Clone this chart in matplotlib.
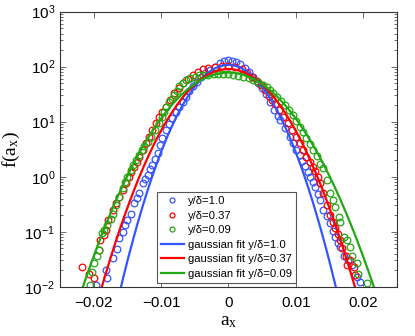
import numpy as np
import matplotlib
matplotlib.use("Agg")
import matplotlib.pyplot as plt
from matplotlib.ticker import FixedLocator, FuncFormatter, LogLocator, NullFormatter

plt.rcParams['font.family'] = ['Liberation Sans', 'DejaVu Sans']
plt.rcParams['mathtext.fontset'] = 'custom'
plt.rcParams['mathtext.rm'] = 'Liberation Serif'
plt.rcParams['mathtext.it'] = 'Liberation Serif:italic'
plt.rcParams['mathtext.sf'] = 'Liberation Sans'

# measured pdf, x = a_x, values given as log10 f(a_x)
x_10 = [-0.0196, -0.0182, -0.0180, -0.0171, -0.0166, -0.0162, -0.0157, -0.0153, -0.0150, -0.0145,
        -0.0140, -0.0136, -0.0132, -0.0127, -0.0124, -0.0120, -0.0116, -0.0113, -0.0109, -0.0105,
        -0.0102, -0.0098, -0.0093, -0.0088, -0.0083, -0.0078, -0.0073, -0.0068, -0.0063, -0.0058,
        -0.0053, -0.0047, -0.0040, -0.0034, -0.0028, -0.0020, -0.0013, -0.0006, 0.0000, 0.0006,
        0.0012, 0.0018, 0.0024, 0.0030, 0.0037, 0.0044, 0.0050, 0.0056, 0.0062, 0.0068,
        0.0073, 0.0077, 0.0084, 0.0091, 0.0096, 0.0101, 0.0106, 0.0110, 0.0114, 0.0118,
        0.0121, 0.0125, 0.0129, 0.0133, 0.0136, 0.0141, 0.0146, 0.0151, 0.0155, 0.0159,
        0.0163, 0.0166, 0.0171, 0.0178, 0.0184, 0.0191, 0.0196]
log_10 = [-1.97, -1.70, -1.84, -1.47, -1.31, -1.12, -1.00, -0.88, -0.79, -0.67,
          -0.48, -0.39, -0.30, -0.12, -0.04, 0.03, 0.14, 0.22, 0.33, 0.43,
          0.58, 0.70, 0.85, 0.95, 1.06, 1.17, 1.27, 1.36, 1.45, 1.55,
          1.64, 1.73, 1.82, 1.88, 1.94, 2.00, 2.06, 2.10, 2.12, 2.11,
          2.08, 2.04, 1.98, 1.91, 1.82, 1.71, 1.61, 1.50, 1.36, 1.22,
          1.11, 1.03, 0.88, 0.73, 0.61, 0.49, 0.39, 0.28, 0.20, 0.08,
          0.00, -0.09, -0.18, -0.31, -0.42, -0.61, -0.72, -0.85, -0.98, -1.09,
          -1.20, -1.27, -1.45, -1.52, -1.61, -1.82, -1.91]

x_037 = [-0.0217, -0.0207, -0.0200, -0.0192, -0.0190, -0.0185, -0.0182, -0.0178, -0.0172, -0.0167,
         -0.0162, -0.0157, -0.0152, -0.0147, -0.0144, -0.0140, -0.0136, -0.0132, -0.0127, -0.0122,
         -0.0118, -0.0113, -0.0108, -0.0103, -0.0098, -0.0093, -0.0087, -0.0080, -0.0074, -0.0068,
         -0.0060, -0.0053, -0.0045, -0.0038, -0.0030, -0.0020, -0.0010, 0.0000, 0.0010, 0.0020,
         0.0028, 0.0035, 0.0042, 0.0048, 0.0054, 0.0060, 0.0065, 0.0069, 0.0075, 0.0081,
         0.0088, 0.0094, 0.0100, 0.0106, 0.0111, 0.0116, 0.0121, 0.0125, 0.0129, 0.0133,
         0.0136, 0.0141, 0.0146, 0.0151, 0.0155, 0.0159, 0.0163, 0.0166, 0.0169, 0.0174,
         0.0176, 0.0181, 0.0186, 0.0188]
log_037 = [-1.64, -1.76, -1.85, -1.33, -1.15, -1.06, -0.97, -0.79, -0.61, -0.48,
           -0.36, -0.24, -0.12, 0.00, 0.09, 0.18, 0.27, 0.36, 0.49, 0.61,
           0.73, 0.85, 0.97, 1.09, 1.18, 1.27, 1.40, 1.52, 1.61, 1.70,
           1.78, 1.85, 1.91, 1.95, 1.98, 2.00, 2.01, 2.01, 1.99, 1.95,
           1.89, 1.82, 1.74, 1.66, 1.57, 1.47, 1.39, 1.33, 1.21, 1.09,
           0.97, 0.85, 0.73, 0.61, 0.49, 0.36, 0.27, 0.18, 0.10, 0.00,
           -0.12, -0.30, -0.51, -0.70, -0.82, -0.94, -1.05, -1.15, -1.30, -1.45,
           -1.61, -1.51, -1.64, -1.79]

x_009 = [-0.0206, -0.0202, -0.0200, -0.0195, -0.0192, -0.0187, -0.0185, -0.0180, -0.0175, -0.0172,
         -0.0167, -0.0162, -0.0157, -0.0153, -0.0150, -0.0145, -0.0141, -0.0137, -0.0132, -0.0128,
         -0.0125, -0.0120, -0.0115, -0.0109, -0.0103, -0.0099, -0.0095, -0.0092, -0.0088, -0.0084,
         -0.0080, -0.0076, -0.0073, -0.0068, -0.0063, -0.0057, -0.0050, -0.0044, -0.0037, -0.0030,
         -0.0022, -0.0015, -0.0008, 0.0000, 0.0007, 0.0015, 0.0022, 0.0030, 0.0037, 0.0044,
         0.0052, 0.0057, 0.0062, 0.0067, 0.0072, 0.0078, 0.0084, 0.0090, 0.0096, 0.0101,
         0.0106, 0.0111, 0.0116, 0.0121, 0.0126, 0.0131, 0.0136, 0.0141, 0.0146, 0.0151,
         0.0155, 0.0159, 0.0164, 0.0166, 0.0171, 0.0176, 0.0181, 0.0184, 0.0191, 0.0193,
         0.0206]
log_009 = [-1.97, -1.73, -1.57, -1.45, -1.33, -1.03, -0.97, -0.88, -0.76, -0.67,
           -0.51, -0.36, -0.21, -0.09, 0.00, 0.12, 0.21, 0.30, 0.40, 0.48,
           0.55, 0.64, 0.73, 0.85, 0.97, 1.08, 1.18, 1.27, 1.36, 1.42,
           1.48, 1.56, 1.64, 1.70, 1.76, 1.79, 1.82, 1.84, 1.85, 1.85,
           1.86, 1.87, 1.86, 1.86, 1.85, 1.83, 1.82, 1.79, 1.76, 1.72,
           1.67, 1.63, 1.58, 1.52, 1.45, 1.38, 1.30, 1.21, 1.12, 1.02,
           0.91, 0.81, 0.70, 0.60, 0.49, 0.37, 0.24, 0.15, -0.06, -0.30,
           -0.42, -0.55, -0.73, -0.82, -1.09, -1.15, -1.27, -1.45, -1.57, -1.76,
           -1.94]

# gaussian fit parameters (mean, std)
fit_mu = [0.0, 0.0, 0.0]
fit_sigma = [0.0037, 0.0044, 0.0051]

labels = ['1.0', '0.37', '0.09']
colors = ['#3355ff', '#ff0000', '#22a812']

fig = plt.figure(figsize=(4.15, 3.36), dpi=100)
ax = fig.add_axes([0.1446, 0.1467, 0.8114, 0.8185])

data = [(x_10, log_10), (x_037, log_037), (x_009, log_009)]
for (xs, ls), lab, c in zip(data, labels, colors):
    ax.plot(xs, 10.0 ** np.array(ls), 'o', mfc='none', mec=c, ms=4.8, mew=0.9,
            label='y/δ=' + lab)

xx = np.linspace(-0.025, 0.025, 600)
for mu, s, lab, c in zip(fit_mu, fit_sigma, labels, colors):
    f = np.exp(-(xx - mu) ** 2 / (2 * s ** 2)) / (s * np.sqrt(2 * np.pi))
    ax.plot(xx, f, '-', color=c, lw=1.6, label='gaussian fit y/δ=' + lab)

ax.set_yscale('log')
ax.set_xlim(-0.025, 0.025)
ax.set_ylim(1e-2, 1e3)
ax.xaxis.set_major_locator(FixedLocator([-0.02, -0.01, 0, 0.01, 0.02]))
ax.xaxis.set_major_formatter(FuncFormatter(lambda v, p: '0' if abs(v) < 1e-9 else ('%.2f' % v).replace('-', '\u2212')))
ax.yaxis.set_major_locator(LogLocator(base=10, numticks=10))
ax.yaxis.set_major_formatter(FuncFormatter(lambda v, p: r'$\mathsf{10^{%d}}$' % round(np.log10(v))))
ax.yaxis.set_minor_locator(LogLocator(base=10, subs=np.arange(2, 10), numticks=20))
ax.yaxis.set_minor_formatter(NullFormatter())
ax.tick_params(which='both', direction='in', top=True, right=True, labelsize=11, width=0.6, color='#555555')
ax.tick_params(which='major', length=4)
ax.tick_params(which='minor', length=2)
ax.tick_params(axis='x', pad=7)
for sp in ax.spines.values():
    sp.set_linewidth(0.8)
    sp.set_color('#333333')

ax.set_xlabel(r'$\mathrm{a_x}$', fontsize=14, labelpad=2)
ax.set_ylabel(r'$\mathrm{f(a_x)}$', fontsize=14, labelpad=2)

leg = ax.legend(loc='lower left', bbox_to_anchor=(0.287, 0.015), fontsize=8.1, fancybox=False,
                edgecolor='#555555', framealpha=1, handlelength=2.1, borderpad=0.35,
                labelspacing=0.4, handletextpad=0.3, borderaxespad=0, markerscale=0.75)
leg.get_frame().set_linewidth(0.8)

fig.savefig('out.png', dpi=100)
